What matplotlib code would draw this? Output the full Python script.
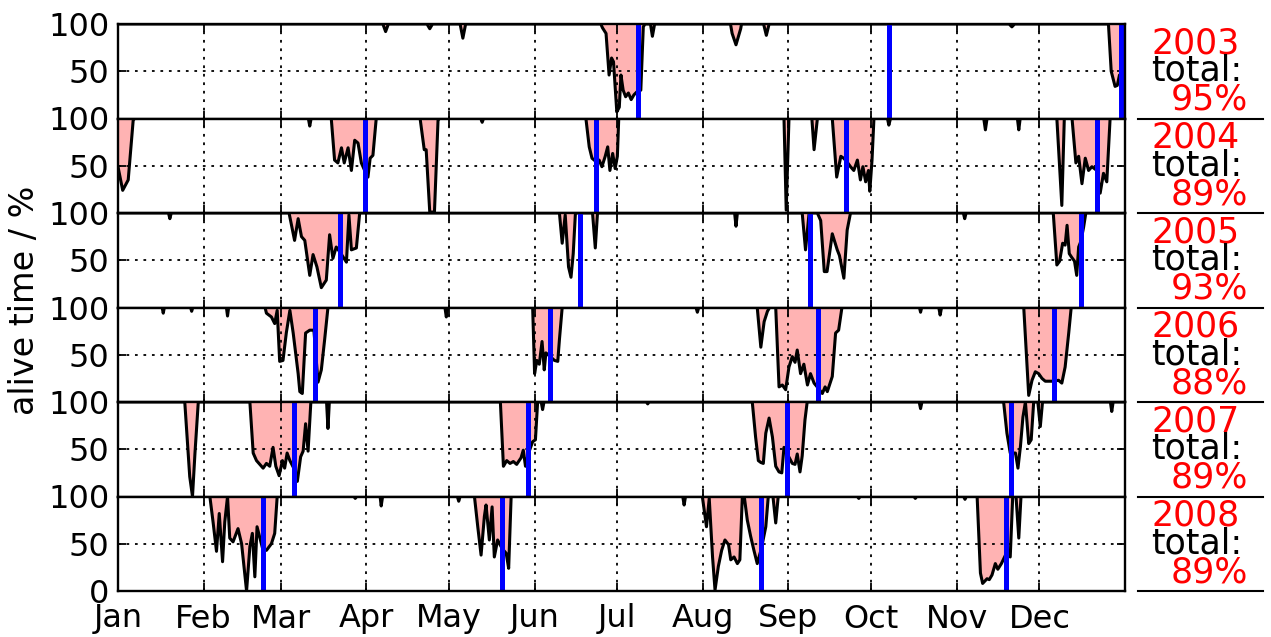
import matplotlib
matplotlib.use('Agg')
import matplotlib.pyplot as plt

# alive time per day of year, only the days where it leaves 100 % are listed
years = [2003, 2004, 2005, 2006, 2007, 2008]
totals = [95, 89, 93, 88, 89, 89]

alive_2003 = [(0, 100), (96, 100), (97, 92), (98, 100), (112, 100), (113, 95), (114, 100),
              (124, 100), (125, 85), (126, 100),
              (175, 100), (175.6, 96), (176.9, 90), (178, 46), (178.9, 64), (179.6, 60), (180.8, 7),
              (181.7, 12), (182.3, 46), (183.1, 30), (184, 23), (185, 27), (186, 20), (187, 25),
              (188, 28), (189.5, 30), (190.4, 97), (191, 100),
              (193, 100), (193.7, 87), (194.5, 100), (222, 100), (222.6, 90), (224, 78), (225.7, 95),
              (226, 100), (234, 100), (235, 88), (236, 100), (323, 100), (324, 97), (325, 100),
              (359, 100), (360, 50), (361.4, 34), (362.2, 35), (363, 46), (365, 48)]
alive_2004 = [(0, 49), (1.7, 24), (3.7, 35), (5.5, 98), (6, 100), (69, 100), (69.5, 92), (70, 100),
              (77.3, 100), (78.5, 56), (79.7, 53), (81, 69), (82, 53), (83.4, 69), (84.6, 45),
              (85.8, 77), (87, 74), (88.2, 53), (89.4, 45), (90.6, 38), (91.4, 58), (92.4, 61),
              (93.6, 100),
              (109.5, 100), (111, 67), (111.7, 67), (113, 1), (114.7, 1), (116, 98), (116.5, 100),
              (131.5, 100), (132, 96), (132.5, 100),
              (169.6, 100), (170.8, 70), (171.8, 58), (173, 55), (174.4, 56), (175.4, 49), (176.6, 60),
              (177.5, 70), (178.3, 45), (179.3, 63), (180.2, 47), (181, 60), (181.5, 100),
              (241.4, 100), (242.2, 3), (243.2, 100), (251.5, 100), (252.3, 67), (253.5, 100),
              (258.9, 100), (260.5, 38), (262, 60), (263, 58), (264, 55), (265.5, 49), (266.7, 45),
              (268, 56), (269.1, 35), (270, 49), (271, 33), (272, 45), (272.5, 23), (273.3, 56),
              (274, 100),
              (278.9, 100), (279.4, 93), (280, 100), (313.8, 100), (314.4, 88), (315, 100),
              (326, 100), (326.5, 88), (327, 100),
              (340.3, 100), (342.1, 8), (343, 100), (345.8, 100), (347.2, 53), (348.2, 60), (349.4, 31),
              (350.6, 58), (351.8, 45), (353, 49), (354.8, 45), (356, 21), (357.2, 42), (358.4, 33),
              (359.6, 100), (365, 100)]
alive_2005 = [(0, 100), (18.3, 100), (18.8, 94), (19.3, 100),
              (62, 100), (64, 71), (65.3, 94), (66.5, 75), (67.7, 71), (69.5, 34), (70.7, 56),
              (72.1, 43), (73.7, 21), (75.5, 29), (76.7, 77), (77.9, 52), (79.1, 64), (80.6, 58),
              (82.8, 48), (83.7, 98), (84.6, 61), (86.4, 63), (87.6, 100),
              (160, 100), (161, 68), (162.1, 98), (163.3, 43), (164.2, 32), (165, 57), (165.8, 100),
              (172, 100), (173, 63), (173.8, 100), (223.5, 100), (224, 86), (224.5, 100),
              (248, 100), (249.2, 61), (250.5, 100), (253.5, 100), (254.7, 92), (256, 38), (257, 38),
              (258.9, 78), (260.7, 61), (261.5, 55), (263.1, 31), (264.3, 82), (265.5, 100),
              (306.4, 100), (306.9, 94), (307.4, 100),
              (339, 100), (340.3, 45), (341.3, 49), (342.4, 68), (343.3, 66), (344, 87), (344.8, 57),
              (345.7, 53), (346.7, 49), (347.5, 34), (348.2, 64), (349, 70), (350, 85), (350.8, 100),
              (365, 100)]
alive_2006 = [(0, 100), (16, 100), (16.4, 94), (16.8, 100), (26.3, 100), (26.7, 96), (27.1, 100),
              (39.3, 100), (39.7, 91), (40.1, 100),
              (53.3, 100), (53.8, 94), (55.6, 90), (56.8, 83), (57.7, 97), (58.6, 43), (59.8, 44),
              (61, 73), (62.3, 97), (63.5, 73), (65.3, 30), (65.9, 11), (66.8, 9), (68, 73),
              (69.5, 76), (71, 76), (72.5, 21), (73.7, 34), (74.9, 66), (76.1, 100),
              (118.5, 100), (119, 90), (119.5, 100),
              (150.3, 100), (151, 30), (151.8, 44), (152.7, 40), (153.7, 64), (154.5, 34), (155.1, 52),
              (156.7, 48), (158.2, 44), (159.4, 43), (160, 66), (161, 100),
              (209.5, 100), (210, 95), (210.5, 100),
              (231.7, 100), (233, 58), (234.2, 85), (235.4, 96), (236.2, 100),
              (238.4, 100), (239.6, 16), (240.8, 18), (242, 13), (243.2, 37), (244.4, 48), (245.4, 42),
              (246.2, 55), (247.4, 30), (248.6, 40), (249.9, 18), (251, 30), (252.3, 20), (253.7, 15),
              (255.3, 9), (256.3, 16), (257.1, 11), (258.9, 27), (260.1, 73), (261.2, 76), (262.4, 100),
              (290.5, 100), (290.9, 95), (291.3, 100), (297.5, 100), (298, 92), (298.5, 100),
              (328.3, 100), (330.1, 7), (331.3, 23), (332.5, 32), (333.7, 30), (334.9, 25), (336.1, 22),
              (337.3, 22), (339.1, 22), (340.9, 23), (342.1, 20), (343.3, 37), (344.6, 73), (345.5, 100),
              (365, 100)]
alive_2007 = [(0, 100), (24.2, 100), (26, 21), (27, 0), (27.9, 46), (29.1, 100),
              (47.8, 100), (49, 46), (50.2, 38), (52.6, 30), (53.8, 35), (55, 32), (56.2, 52), (57.2, 32),
              (58.4, 22), (59.6, 38), (60.4, 30), (61.3, 46), (62.3, 38), (63.7, 30), (65, 16),
              (66.2, 42), (67.1, 48), (68, 77), (68.9, 48), (69.9, 100),
              (75.6, 100), (76.1, 72), (76.6, 100),
              (138.6, 100), (139.7, 32), (140.9, 38), (142.1, 35), (143.3, 37), (144.5, 34), (146.1, 41),
              (146.9, 49), (147.7, 32), (148.7, 45), (150.3, 58), (151.3, 60), (152.1, 100),
              (153.4, 100), (153.9, 92), (154.4, 100), (191.5, 100), (192, 98), (192.5, 100),
              (229.9, 100), (231.1, 63), (232.1, 38), (233, 36), (233.9, 35), (234.8, 67), (236, 83),
              (237.2, 63), (238.4, 32), (239.6, 26), (240.6, 25), (241.4, 52), (242.6, 45), (244.4, 35),
              (245.4, 34), (246.2, 45), (247.2, 26), (248, 43), (249, 81), (249.8, 100),
              (290.4, 100), (290.9, 93), (291.4, 100),
              (321, 100), (322.2, 67), (323.4, 46), (323.8, 46), (325.3, 46), (326.2, 30), (327.1, 53),
              (328, 84), (328.9, 100), (330.1, 56), (331, 60), (331.9, 100),
              (333.4, 100), (334.3, 74), (335.1, 100), (359.7, 100), (360.2, 90), (360.7, 100),
              (365, 100)]
alive_2008 = [(0, 100), (33.3, 100), (34.5, 72), (35.7, 42), (36.7, 82), (37.9, 31), (38.7, 73),
              (39.7, 100), (40.5, 56), (41.7, 52), (43.5, 66), (44.8, 50), (46.6, 0), (47.8, 47),
              (48.7, 61), (49.6, 15), (50.4, 68), (52.4, 45), (53.8, 43), (55.6, 50), (56.8, 61),
              (57.7, 100),
              (85.5, 100), (86, 98), (86.5, 100), (95, 100), (95.4, 90), (95.9, 100),
              (123, 100), (123.5, 95), (124, 100),
              (129.2, 100), (130.4, 68), (131.6, 38), (132.8, 79), (133.4, 91), (134.6, 54), (135.6, 89),
              (136.4, 36), (137.6, 54), (139.2, 45), (140.7, 40), (141.6, 24), (142.5, 100),
              (204.7, 100), (205.2, 91), (205.7, 100),
              (211.8, 100), (213.3, 68), (214.3, 98), (215.5, 36), (216.4, 1), (217.6, 26), (218.8, 43),
              (220, 54), (221.3, 49), (222.1, 33), (223.3, 36), (224.5, 29), (225.4, 33), (226.3, 100),
              (227, 100), (228.1, 75), (229.3, 58), (230.5, 43), (231.7, 29), (233.2, 45), (234.8, 68),
              (235.7, 100), (237.4, 100), (238.4, 72), (239.3, 100),
              (268, 100), (268.5, 98), (269, 100), (288.5, 100), (289, 98), (289.5, 100),
              (306.5, 100), (307, 97), (307.5, 100),
              (311.4, 100), (312.6, 19), (313.4, 8), (315, 13), (315.8, 12), (316.8, 17), (318, 29),
              (318.9, 23), (320.2, 29), (322, 40), (323.4, 36), (324.3, 100),
              (325.5, 100), (326.5, 56), (327.3, 100), (365, 100)]
alive = [alive_2003, alive_2004, alive_2005, alive_2006, alive_2007, alive_2008]

# blue markers (day of year)
marks = [[188.6, 279.6, 363.5],
         [89.4, 173.2, 264, 354.8],
         [80.6, 167.6, 251, 349],
         [71.5, 156.7, 253.7, 339.1],
         [63.7, 148.7, 242.6, 323.8],
         [52.4, 139.2, 233.2, 322]]

month_starts = [0, 31, 59, 90, 120, 151, 181, 212, 243, 273, 304, 334]
month_labels = ['Jan', 'Feb', 'Mar', 'Apr', 'May', 'Jun',
                'Jul', 'Aug', 'Sep', 'Oct', 'Nov', 'Dec']

fig, axes = plt.subplots(6, 1, sharex=True, figsize=(12.71, 6.37), dpi=100)
fig.subplots_adjust(left=118 / 1271, right=1125 / 1271, top=1 - 24 / 637,
                    bottom=1 - 591 / 637, hspace=0)

for i, ax in enumerate(axes):
    days = [p[0] for p in alive[i]]
    vals = [p[1] for p in alive[i]]
    ax.fill_between(days, vals, 100, facecolor='#ffb3b3', edgecolor='none', zorder=1)
    ax.plot(days, vals, color='k', lw=2.2, zorder=2)
    for m in marks[i]:
        ax.axvline(m, color='#0000ff', lw=3.6, zorder=3)

    ax.set_xlim(0, 365)
    ax.set_ylim(0, 100)
    ax.set_yticks([0, 50, 100])
    last = i == len(axes) - 1
    ax.set_yticklabels(['0' if last else '', '50', '100'])
    ax.set_xticks(month_starts)
    ax.set_xticklabels(month_labels)
    ax.set_axisbelow(False)
    ax.grid(True, color='k', linestyle=(0, (1.5, 3.2)), lw=1.3, zorder=4)
    ax.tick_params(direction='in', top=True, right=True, length=6, width=1.3,
                   labelsize=23, pad=6)
    ax.tick_params(axis='x', pad=9)
    for s in ax.spines.values():
        s.set_linewidth(1.7)
        s.set_zorder(5)

    ax.text(1.026, 0.69, str(years[i]), transform=ax.transAxes, color='red',
            fontsize=25, ha='left', va='baseline')
    ax.text(1.026, 0.397, 'total:', transform=ax.transAxes, color='black',
            fontsize=25, ha='left', va='baseline')
    ax.text(1.122, 0.09, '%d%%' % totals[i], transform=ax.transAxes, color='red',
            fontsize=25, ha='right', va='baseline')
    ax.plot([1.013, 1.137], [0, 0], transform=ax.transAxes, color='k', lw=1.5,
            clip_on=False)

fig.text(25 / 1271, 1 - 300 / 637, 'alive time / %', rotation=90, fontsize=24,
         ha='center', va='center')

fig.savefig('out.png', dpi=100)
